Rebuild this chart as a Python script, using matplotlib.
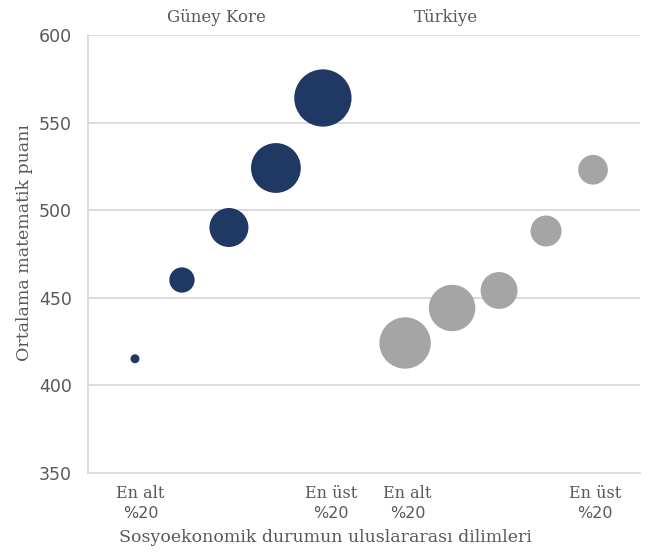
import matplotlib
matplotlib.use("Agg")
import matplotlib.pyplot as plt
import numpy as np

# ---- data ----
groups = ["Güney Kore", "Türkiye"]
korea_scores = [415, 460, 490, 524, 564]
korea_share = [1, 8, 19, 31, 41]        # bubble size (% of students)
turkey_scores = [424, 444, 454, 488, 523]
turkey_share = [33, 27, 17, 12, 11]
yticks = [350, 400, 450, 500, 550, 600]
low_label = "En alt"
high_label = "En üst"
pct_label = "%20"
xlabel = "Sosyoekonomik durumun uluslararası dilimleri"
ylabel = "Ortalama matematik puanı"

# ---- style ----
NAVY = "#203864"
GREY = "#a5a5a5"
TXT = "#595959"
GRID = "#d9d9d9"
SERIF = ["DejaVu Serif"]
SANS = ["DejaVu Sans"]

W, H = 647, 555
fig = plt.figure(figsize=(W / 100, H / 100), dpi=100)
L, R, T, B = 88, 640, 35, 472.5
ax = fig.add_axes([L / W, 1 - B / H, (R - L) / W, (B - T) / H])

n = len(korea_scores)
gap = 1.75
xk = np.arange(n)
xt = np.arange(n) + (n - 1) + gap

size_k = 41.5 * np.array(korea_share)
size_t = 41.5 * np.array(turkey_share)

ax.scatter(xk, korea_scores, s=size_k, color=NAVY, linewidths=0, zorder=3)
ax.scatter(xt, turkey_scores, s=size_t, color=GREY, linewidths=0, zorder=3)

ax.set_xlim(-1, xt[-1] + 1)
ax.set_ylim(350, 600)
ax.set_yticks(yticks)
ax.set_yticklabels([str(v) for v in yticks], fontfamily=SANS, fontsize=12.5, color=TXT)
ax.tick_params(axis="y", length=0, pad=11.5)
ax.set_xticks([])
for v in yticks[1:]:
    ax.axhline(v, color=GRID, lw=1.3, zorder=1)
for s in ["top", "right"]:
    ax.spines[s].set_visible(False)
for s in ["left", "bottom"]:
    ax.spines[s].set_color(GRID)
    ax.spines[s].set_linewidth(1.3)

# group labels
ax.text(0.233, 1.04, groups[0], transform=ax.transAxes, ha="center", va="center",
        fontfamily=SERIF, fontsize=12, color=TXT)
ax.text(0.648, 1.04, groups[1], transform=ax.transAxes, ha="center", va="center",
        fontfamily=SERIF, fontsize=12, color=TXT)

# quintile labels
def yfrac(py):
    return 1 - py / H

for xd, word in [(xk[0] + 0.12, low_label), (xk[-1] + 0.17, high_label),
                 (xt[0] + 0.05, low_label), (xt[-1] + 0.05, high_label)]:
    xf = ax.transData.transform((xd, 0))[0] / W
    fig.text(xf, yfrac(493), word, ha="center", va="center",
             fontfamily=SERIF, fontsize=11.5, color=TXT)
    fig.text(xf, yfrac(513.5), pct_label, ha="center", va="center",
             fontfamily=SANS, fontsize=11.5, color=TXT)

fig.text(325 / W, yfrac(537), xlabel, ha="center", va="center",
         fontfamily=SERIF, fontsize=12.5, color=TXT)
fig.text(25 / W, yfrac(242.5), ylabel, ha="center", va="center", rotation=90,
         fontfamily=SERIF, fontsize=12.5, color=TXT)

fig.savefig("out.png", dpi=100)
